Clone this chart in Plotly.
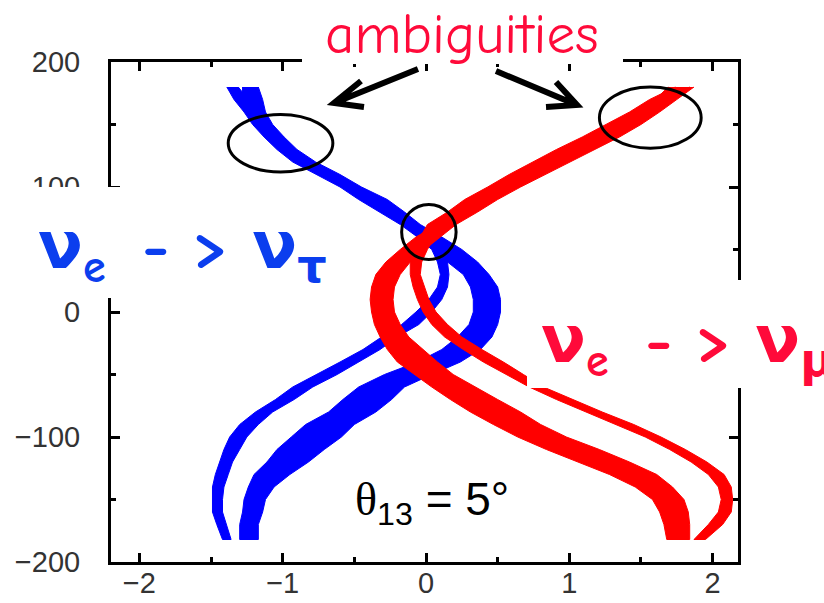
import plotly.graph_objects as go

# ---------------- data ----------------
# CP phase delta (degrees) on the vertical axis
delta = [180, 170, 160, 150, 140, 130, 120, 110, 100, 90, 80, 70, 60, 50, 40, 30, 20, 10, 0,
         -10, -20, -30, -40, -50, -60, -70, -80, -90, -100, -110, -120, -130, -140, -150,
         -160, -170, -182]

# nu_e -> nu_tau, wide band
tau_wide_lo = [-1.28, -1.28, -1.24, -1.19, -1.11, -1.02, -0.91, -0.74, -0.58, -0.45, -0.30, -0.15,
               -0.06, 0.07, 0.15, 0.26, 0.31, 0.33, 0.33, 0.30, 0.22, 0.11, -0.06, -0.29, -0.47,
               -0.58, -0.68, -0.84, -0.94, -1.04, -1.11, -1.20, -1.24, -1.27, -1.28, -1.30, -1.30]
tau_wide_hi = [-1.17, -1.14, -1.12, -1.07, -0.99, -0.90, -0.77, -0.60, -0.45, -0.27, -0.15, -0.04,
               0.11, 0.25, 0.36, 0.44, 0.50, 0.52, 0.52, 0.50, 0.46, 0.38, 0.24, 0.04, -0.15,
               -0.24, -0.35, -0.50, -0.59, -0.71, -0.82, -0.95, -1.06, -1.12, -1.14, -1.17, -1.17]
# nu_e -> nu_tau, narrow band
tau_thin_lo = [-1.39, -1.34, -1.27, -1.21, -1.13, -1.04, -0.93, -0.76, -0.60, -0.47, -0.32, -0.18,
               -0.06, 0.04, 0.08, 0.10, 0.08, 0.02, -0.07, -0.17, -0.31, -0.44, -0.60, -0.76,
               -0.93, -1.05, -1.19, -1.30, -1.37, -1.41, -1.44, -1.47, -1.49, -1.49, -1.49, -1.46, -1.42]
tau_thin_hi = [-1.31, -1.24, -1.18, -1.12, -1.04, -0.95, -0.84, -0.67, -0.51, -0.36, -0.22, -0.08,
               0.06, 0.14, 0.15, 0.16, 0.15, 0.11, 0.04, -0.05, -0.20, -0.32, -0.47, -0.62,
               -0.79, -0.92, -1.07, -1.17, -1.25, -1.30, -1.35, -1.38, -1.41, -1.42, -1.42, -1.39, -1.36]
# nu_e -> nu_mu, wide band
mu_wide_lo = [1.69, 1.60, 1.48, 1.33, 1.18, 1.00, 0.82, 0.66, 0.50, 0.34, 0.22, 0.08, -0.07, -0.18,
              -0.28, -0.35, -0.38, -0.39, -0.38, -0.36, -0.32, -0.27, -0.20, -0.08, 0.04, 0.17,
              0.31, 0.47, 0.64, 0.84, 1.06, 1.28, 1.46, 1.58, 1.63, 1.66, 1.68]
mu_wide_hi = [1.87, 1.75, 1.63, 1.50, 1.35, 1.18, 1.00, 0.83, 0.66, 0.50, 0.36, 0.21, 0.10, -0.01,
              -0.11, -0.18, -0.22, -0.23, -0.22, -0.18, -0.12, -0.02, 0.08, 0.19, 0.35, 0.50,
              0.66, 0.80, 0.98, 1.21, 1.42, 1.61, 1.72, 1.80, 1.83, 1.84, 1.84]
# nu_e -> nu_mu, narrow band
mu_thin_lo = [1.74, 1.56, 1.42, 1.26, 1.09, 0.91, 0.74, 0.58, 0.43, 0.27, 0.15, 0.01, -0.04, -0.08,
              -0.11, -0.11, -0.09, -0.06, -0.02, 0.04, 0.13, 0.26, 0.40, 0.56, 0.72, 0.91, 1.12,
              1.33, 1.53, 1.70, 1.85, 1.97, 2.04, 2.06, 2.04, 1.97, 1.87]
mu_thin_hi = [1.84, 1.66, 1.51, 1.35, 1.19, 1.01, 0.84, 0.68, 0.52, 0.36, 0.24, 0.10, 0.06, 0.01,
              -0.03, -0.04, -0.01, 0.02, 0.07, 0.15, 0.25, 0.39, 0.54, 0.68, 0.82, 1.03, 1.23,
              1.45, 1.64, 1.81, 1.96, 2.08, 2.13, 2.14, 2.13, 2.07, 1.95]

# ambiguity regions (x0, x1, y0, y1) in data units
ambig_left = (-1.38, -0.65, 112, 158)
ambig_right = (1.21, 1.92, 131, 180)
ambig_center = (-0.17, 0.21, 42, 86)

x_ticks = [-2, -1, 0, 1, 2]
y_ticks = [-200, -100, 0, 100, 200]

BLUE = "#0000FF"
RED = "#FF0000"
TXT_RED = "#FF0A3A"
TXT_BLUE = "#0B3EEE"

# ---------------- figure ----------------
W, H = 824, 603
ML, MR, MT, MB = 111, 86, 62, 41
PW, PH = W - ML - MR, H - MT - MB


def px(xp):
    return (xp - ML) / PW


def py(yp):
    return (H - MB - yp) / PH


def band(lo, hi, color):
    return go.Scatter(x=list(lo) + list(hi)[::-1], y=delta + delta[::-1], mode="lines",
                      fill="toself", fillcolor=color, line=dict(color=color, width=1),
                      hoverinfo="skip", showlegend=False)


fig = go.Figure()
fig.add_trace(band(tau_wide_lo, tau_wide_hi, BLUE))
fig.add_trace(band(tau_thin_lo, tau_thin_hi, BLUE))
fig.add_trace(band(mu_wide_lo, mu_wide_hi, RED))
fig.add_trace(band(mu_thin_lo, mu_thin_hi, RED))

axis_common = dict(showline=True, linewidth=3, linecolor="black", mirror="ticks",
                   ticks="inside", ticklen=9, tickwidth=3, tickcolor="black",
                   showgrid=False, zeroline=False, automargin=False,
                   tickfont=dict(family="Liberation Sans, Arial, sans-serif", size=29, color="#333"))

fig.update_xaxes(range=[-2.198, 2.177], tickvals=x_ticks, ticklabelstandoff=-7,
                 minor=dict(ticks="inside", ticklen=5, tickwidth=3, tickcolor="black", dtick=0.5,
                            tick0=0, showgrid=False),
                 **axis_common)
fig.update_yaxes(range=[-200, 200], tickvals=y_ticks, ticklabelstandoff=22,
                 minor=dict(ticks="inside", ticklen=5, tickwidth=3, tickcolor="black", dtick=50,
                            tick0=0, showgrid=False),
                 **axis_common)

shapes = []
# white label boxes that sit over the frame
for (x0, x1, y0, y1) in [(302, 623, -5, 64), (-5, 322, 187, 298), (527, 830, 280, 388)]:
    shapes.append(dict(type="rect", xref="paper", yref="paper", x0=px(x0), x1=px(x1),
                       y0=py(y1), y1=py(y0), fillcolor="white", line=dict(width=0),
                       layer="above"))
# ellipses around the ambiguities
for (x0, x1, y0, y1) in [ambig_left, ambig_right, ambig_center]:
    shapes.append(dict(type="circle", xref="x", yref="y", x0=x0, x1=x1, y0=y0, y1=y1,
                       line=dict(color="black", width=3), layer="above"))


# arrows (pixel positions -> paper)
def arrow(tail, tip, w1, w2):
    p = lambda q: f"{px(q[0]):.4f},{py(q[1]):.4f}"
    return dict(type="path", xref="paper", yref="paper",
                path=f"M{p(tail)} L{p(tip)} M{p(w1)} L{p(tip)} L{p(w2)}",
                line=dict(color="black", width=6), layer="above")


shapes.append(arrow((418, 69), (334, 103), (361, 81), (364, 107)))
shapes.append(arrow((496, 71), (577, 105), (556, 82), (546, 107)))

comic = "Comic Sans MS, Comic Neue, DejaVu Sans, sans-serif"
nb = "\u00a0"
th = "\u2009"
annotations = [
    dict(text="ambiguities", x=px(462), y=py(35), xref="paper", yref="paper",
         xanchor="center", yanchor="middle", showarrow=False,
         font=dict(family=comic, size=57, color=TXT_RED)),
    dict(text=f"<b>ν<sub>e</sub>{nb}{th}-{nb}>{nb}ν<sub>τ</sub></b>", x=px(36), y=py(251),
         xref="paper", yref="paper", xanchor="left", yanchor="middle", showarrow=False,
         font=dict(family=comic, size=66, color=TXT_BLUE)),
    dict(text=f"<b>ν<sub>e</sub>{nb}{th}-{nb}>{nb}ν<sub>μ</sub></b>", x=px(539), y=py(345),
         xref="paper", yref="paper", xanchor="left", yanchor="middle", showarrow=False,
         font=dict(family=comic, size=66, color=TXT_RED)),
    dict(text="<span style='font-family:Liberation Serif, serif'>θ</span><sub>13</sub> = 5°",
         x=px(353), y=py(502), xref="paper", yref="paper", xanchor="left", yanchor="middle",
         showarrow=False, font=dict(family="Liberation Sans, Arial, sans-serif", size=46,
                                    color="black")),
]

fig.update_layout(width=W, height=H, margin=dict(l=ML, r=MR, t=MT, b=MB),
                  paper_bgcolor="white", plot_bgcolor="white",
                  shapes=shapes, annotations=annotations, showlegend=False)

fig.write_html("out.html")
